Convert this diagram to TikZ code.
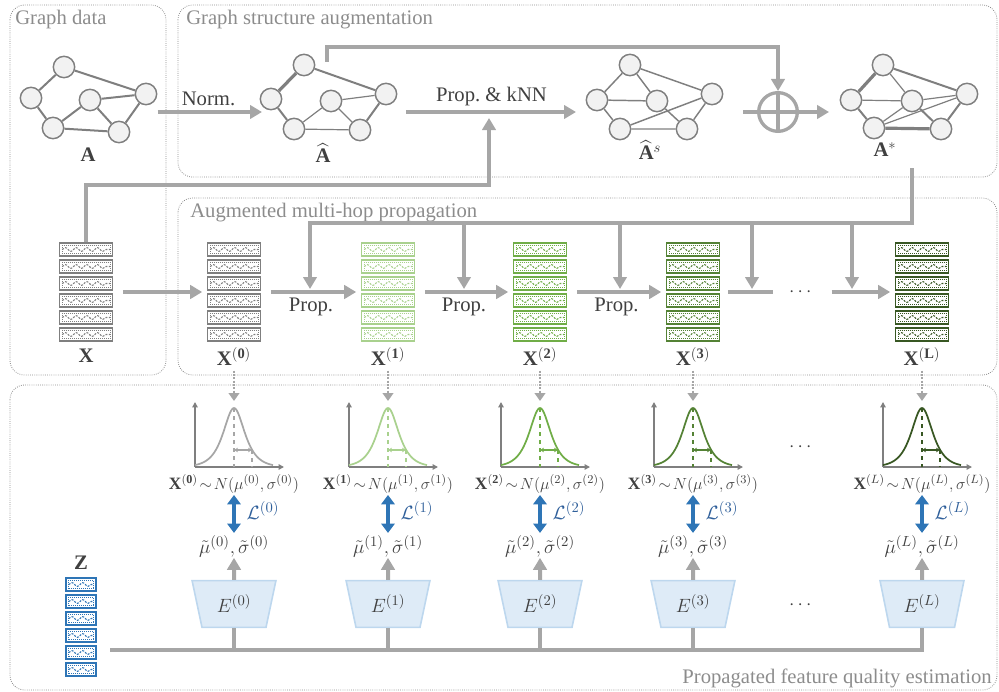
\documentclass[tikz,border=0pt]{standalone}
\usepackage{fontspec}
\setmainfont{Liberation Serif}
\usepackage{amsmath}
\usepackage{amssymb}
\usetikzlibrary{arrows.meta,positioning,fit,shapes.geometric,decorations.pathmorphing}

\definecolor{arrgray}{HTML}{A6A6A6}
\definecolor{vline}{HTML}{7F7F7F}
\definecolor{vfill}{HTML}{F2F2F2}
\definecolor{txtgray}{HTML}{404040}
\definecolor{boxgray}{HTML}{8C8C8C}
\definecolor{c1}{HTML}{A9D18E}
\definecolor{c2}{HTML}{70AD47}
\definecolor{c3}{HTML}{548235}
\definecolor{c4}{HTML}{385723}
\definecolor{zblue}{HTML}{2E75B6}
\definecolor{lossblue}{HTML}{2F5F9A}
\definecolor{encfill}{HTML}{DEEBF7}
\definecolor{encline}{HTML}{BDD7EE}

\begin{document}
\begin{tikzpicture}[x=0.75pt,y=-0.75pt,
    vtx/.style={circle,draw=vline,fill=vfill,line width=1.1pt,minimum size=16pt,inner sep=0pt},
    e/.style={draw=vline,line width=1.5pt},
    ethin/.style={draw=vline,line width=0.9pt},
    ethick/.style={draw=vline,line width=2.4pt},
    arr/.style={draw=arrgray,line width=3pt,-{Triangle[length=9pt,width=10pt]}},
    bar/.style={draw=arrgray,line width=3pt},
    axis/.style={draw=vline,line width=1pt,-{Triangle[length=4pt,width=4pt]}},
    dotarr/.style={draw=arrgray,line width=1.5pt,densely dotted,-{Triangle[length=6pt,width=8pt]}},
    lossarr/.style={draw=zblue,line width=3.4pt,{Triangle[length=7pt,width=10pt]}-{Triangle[length=7pt,width=10pt]}},
    grp/.style={draw=boxgray,densely dotted,line width=0.6pt,rounded corners=11pt},
    title/.style={text=boxgray,font=\fontsize{15.5}{18}\selectfont,inner sep=0pt},
    lbl/.style={text=txtgray,font=\fontsize{15.5}{18}\selectfont},
    mlbl/.style={text=txtgray,font=\fontsize{13}{15}\selectfont,inner sep=1pt},
    mulbl/.style={text=txtgray,font=\fontsize{15}{17}\selectfont,inner sep=0.5pt},
    dots/.style={text=txtgray,font=\fontsize{15}{18}\selectfont,inner sep=0pt},
    stack/.style={minimum width=39.75pt,minimum height=75pt,inner sep=0pt},
    frow/.style={draw=#1,line width=1.4pt,fill=white,minimum width=39.75pt,minimum height=9.75pt,inner sep=0pt,
      path picture={
        \draw[#1,densely dotted,line width=0.5pt] ([shift={(1.8pt,1.8pt)}]path picture bounding box.south west) rectangle ([shift={(-1.8pt,-1.8pt)}]path picture bounding box.north east);
        \draw[#1,line width=0.8pt,dash pattern=on 1.5pt off 1pt,decorate,decoration={snake,amplitude=1.4pt,segment length=8pt}] ([xshift=2pt]path picture bounding box.west) -- ([xshift=-2pt]path picture bounding box.east);}},
    enc/.style={trapezium,shape border rotate=180,trapezium stretches=true,trapezium angle=76,
      minimum width=63pt,minimum height=35pt,fill=encfill,draw=encline,line width=1.2pt,
      font=\fontsize{15.5}{18}\selectfont,text=txtgray}]

\useasboundingbox (0,0) rectangle (999,692);

% group boxes
\draw[grp] (10,5) rectangle (166,375);
\draw[grp] (178,5) rectangle (997,177);
\draw[grp] (178,198) rectangle (997,375);
\draw[grp] (10,385) rectangle (997,690);
\node[title,anchor=base west] (tgd) at (15,25) {Graph data};
\node[title,anchor=base west] (tgsa) at (186,25) {Graph structure augmentation};
\node[title,anchor=base west] (tamp) at (190,217) {Augmented multi-hop propagation};
\node[title,anchor=base east] (tpfq) at (992,683) {Propagated feature quality estimation};

% graph A
\node[vtx] (a1) at (64,67) {};
\node[vtx] (a2) at (31,98) {};
\node[vtx] (a3) at (53,128) {};
\node[vtx] (a4) at (90,100) {};
\node[vtx] (a5) at (146,94) {};
\node[vtx] (a6) at (119,132) {};
\draw[e] (a1) -- (a2) (a1) -- (a5) (a2) -- (a3) (a3) -- (a4) (a4) -- (a5)
         (a4) -- (a6) (a3) -- (a6) (a6) -- (a5);
\node[fit=(a1)(a2)(a3)(a4)(a5)(a6),inner sep=0pt] (gA) {};
\node[lbl] (lA) at (88,155) {$\mathbf{A}$};

% graph A hat
\node[vtx] (h1) at (304,65) {};
\node[vtx] (h2) at (271,99) {};
\node[vtx] (h3) at (294,129) {};
\node[vtx] (h4) at (331,101) {};
\node[vtx] (h5) at (386,94) {};
\node[vtx] (h6) at (360,130) {};
\draw[ethick] (h1) -- (h2);
\draw[e] (h2) -- (h3) (h1) -- (h5) (h6) -- (h5);
\draw[ethin] (h4) -- (h5) (h3) -- (h4) (h4) -- (h6) (h3) -- (h6);
\node[fit=(h1)(h2)(h3)(h4)(h5)(h6),inner sep=0pt] (gH) {};
\node[lbl] (lH) at (323,153) {$\widehat{\mathbf{A}}$};

% graph A hat s
\node[vtx] (s1) at (630,65) {};
\node[vtx] (s2) at (597,100) {};
\node[vtx] (s3) at (657,101) {};
\node[vtx] (s4) at (712,94) {};
\node[vtx] (s5) at (620,129) {};
\node[vtx] (s6) at (687,129) {};
\draw[ethin,line width=1.1pt] (s1) -- (s2) (s1) -- (s3) (s1) -- (s4) (s2) -- (s3) (s2) -- (s5)
         (s3) -- (s6) (s5) -- (s4) (s5) -- (s6) (s6) -- (s4);
\node[fit=(s1)(s2)(s3)(s4)(s5)(s6),inner sep=0pt] (gS) {};
\node[lbl] (lS) at (650,150) {$\widehat{\mathbf{A}}^{s}$};

% graph A star
\node[vtx] (t1) at (883,65) {};
\node[vtx] (t2) at (851,100) {};
\node[vtx] (t3) at (912,101) {};
\node[vtx] (t4) at (967,94) {};
\node[vtx] (t5) at (874,128) {};
\node[vtx] (t6) at (941,129) {};
\draw[ethick] (t1) -- (t2) (t5) -- (t6);
\draw[e] (t1) -- (t4) (t2) -- (t5) (t6) -- (t4) (t3) -- (t6);
\draw[ethin] (t1) -- (t3) (t2) -- (t3) (t3) -- (t4) (t5) -- (t3) (t5) -- (t4);
\node[fit=(t1)(t2)(t3)(t4)(t5)(t6),inner sep=0pt] (gT) {};
\node[lbl] (lT) at (885,150) {$\mathbf{A}^{*}$};

% structure arrows
\coordinate (ln) at (0,112);
\node[circle,draw=arrgray,line width=2.5pt,minimum size=29pt,inner sep=0pt,
  path picture={\draw[arrgray,line width=2.5pt] (path picture bounding box.north) -- (path picture bounding box.south);}] (oplus) at (778,112) {};
\draw[arr,shorten >=-2pt] (gA.east |- ln) -- node[lbl,above=0pt] {Norm.} (gH.west |- ln);
\draw[arr,shorten <=6.2pt,shorten >=7pt] (gH.east |- ln) -- node[lbl,above=0pt] {Prop.\ \& kNN} (gS.west |- ln);
\draw[arr,shorten <=14.5pt,shorten >=7.7pt] (gS.east |- ln) -- (gT.west |- ln);
\coordinate (skip) at (327,62);
\draw[arr] (skip) -- ++(0,-15) -| (oplus.north);

% feature stacks
\foreach \nm/\cx/\col in {x/86/vline,x0/234/vline,x1/388/c1,x2/540/c2,x3/693/c3,xL/922/c4}{
  \node[stack] (\nm) at (\cx,292) {};
  \foreach \r in {0,...,5}
    \node[frow=\col] (\nm-\r) at (\cx,{249.5+17*\r}) {};
}
\node[lbl] (lx) at (86,356) {$\mathbf{X}$};
\foreach \nm/\cx/\s in {x0/234/0,x1/388/1,x2/540/2,x3/693/3,xL/922/L}
  \node[lbl] (l\nm) at (\cx,357) {$\mathbf{X}^{(\mathbf{\s})}$};

\coordinate (kin) at (489,118);
\draw[arr] (x.north) -- ++(0,-57) -| (kin);

% propagation
\draw[arr,shorten <=7.5pt,shorten >=3.75pt] (x) -- (x0);
\draw[arr,shorten <=7.5pt,shorten >=3.75pt] (x0) -- node[lbl,below=0pt] {Prop.} (x1);
\draw[arr,shorten <=7.5pt,shorten >=3.75pt] (x1) -- node[lbl,below=0pt] {Prop.} (x2);
\draw[arr,shorten <=7.5pt,shorten >=3.75pt] (x2) -- node[lbl,below=0pt] {Prop.} (x3);
\node[dots] (dd0) at (802,292) {$\cdots$};
\draw[bar,shorten <=6pt,shorten >=11.6pt] (x3) -- (dd0);
\draw[arr,shorten <=12.4pt,shorten >=3.75pt] (dd0) -- (xL);

% A* fed to every hop
\coordinate (tout) at (912,168);
\coordinate (hub) at (912,223);
\foreach \j/\jx in {0/310,1/464,2/620,3/752,4/852}
  \coordinate (j\j) at (\jx,289);
\draw[arr] (tout) -- (hub) -| (j0);
\foreach \j in {1,...,4}
  \draw[arr] (j\j |- hub) -- (j\j);

% quality estimation
\foreach \i/\cx/\col/\s/\d in {0/234/arrgray/0/\mathbf{0},1/388/c1/1/\mathbf{1},2/540/c2/2/\mathbf{2},3/693/c3/3/\mathbf{3},L/922/c4/L/L}{
  \coordinate (pk\i) at (\cx,401);
  \draw[dotarr] (lx\i) -- (pk\i);
  \draw[axis] ({\cx-39},467) -- ({\cx-39},402);
  \draw[axis] ({\cx-39},467) -- ({\cx+50},467);
  \draw[\col,line width=1.3pt] plot[domain=-39:39,samples=61] ({\cx+\x},{467-59/cosh(\x/9.5)});
  \draw[\col,line width=1.1pt,dashed] (\cx,408) -- (\cx,467);
  \draw[\col,line width=0.9pt,dashed] ({\cx+18},450) -- ({\cx+18},467);
  \draw[\col,line width=0.9pt,{Stealth[length=3pt,width=3.5pt]}-{Stealth[length=3pt,width=3.5pt]}] (\cx,450) -- ({\cx+18},450);
  \node[mlbl] (dist\i) at (\cx,484) {$\mathbf{X}^{(\d)}\!\sim\! N(\mu^{(\s)},\sigma^{(\s)})$};
  \node[mulbl] (mu\i) at (\cx,546) {$\tilde{\mu}^{(\s)},\tilde{\sigma}^{(\s)}$};
  \draw[lossarr,shorten >=1pt] (dist\i) -- (mu\i);
  \node[lbl,text=lossblue,anchor=west] (loss\i) at ({\cx+8},511) {$\mathcal{L}^{(\s)}$};
  \node[enc] (enc\i) at (\cx,604) {$E^{(\s)}$};
  \draw[arr] (enc\i) -- (mu\i);
}
\node[dots] (dd1) at (802,447) {$\cdots$};
\node[dots] (dd2) at (802,605) {$\cdots$};

% Z and the shared bus
\node[lbl] (lz) at (81,563) {$\mathbf{Z}$};
\node[stack,minimum width=22.5pt] (z) at (81,627) {};
\foreach \r in {0,...,5}
  \node[frow=zblue,minimum width=22.5pt] (z-\r) at (81,{584.5+17*\r}) {};
\coordinate (busL) at (110,650);
\draw[bar] (busL) -- (busL -| encL.south) -- (encL.south);
\foreach \i in {0,1,2,3}
  \draw[bar] (enc\i.south) -- (enc\i.south |- busL);

\end{tikzpicture}
\end{document}
